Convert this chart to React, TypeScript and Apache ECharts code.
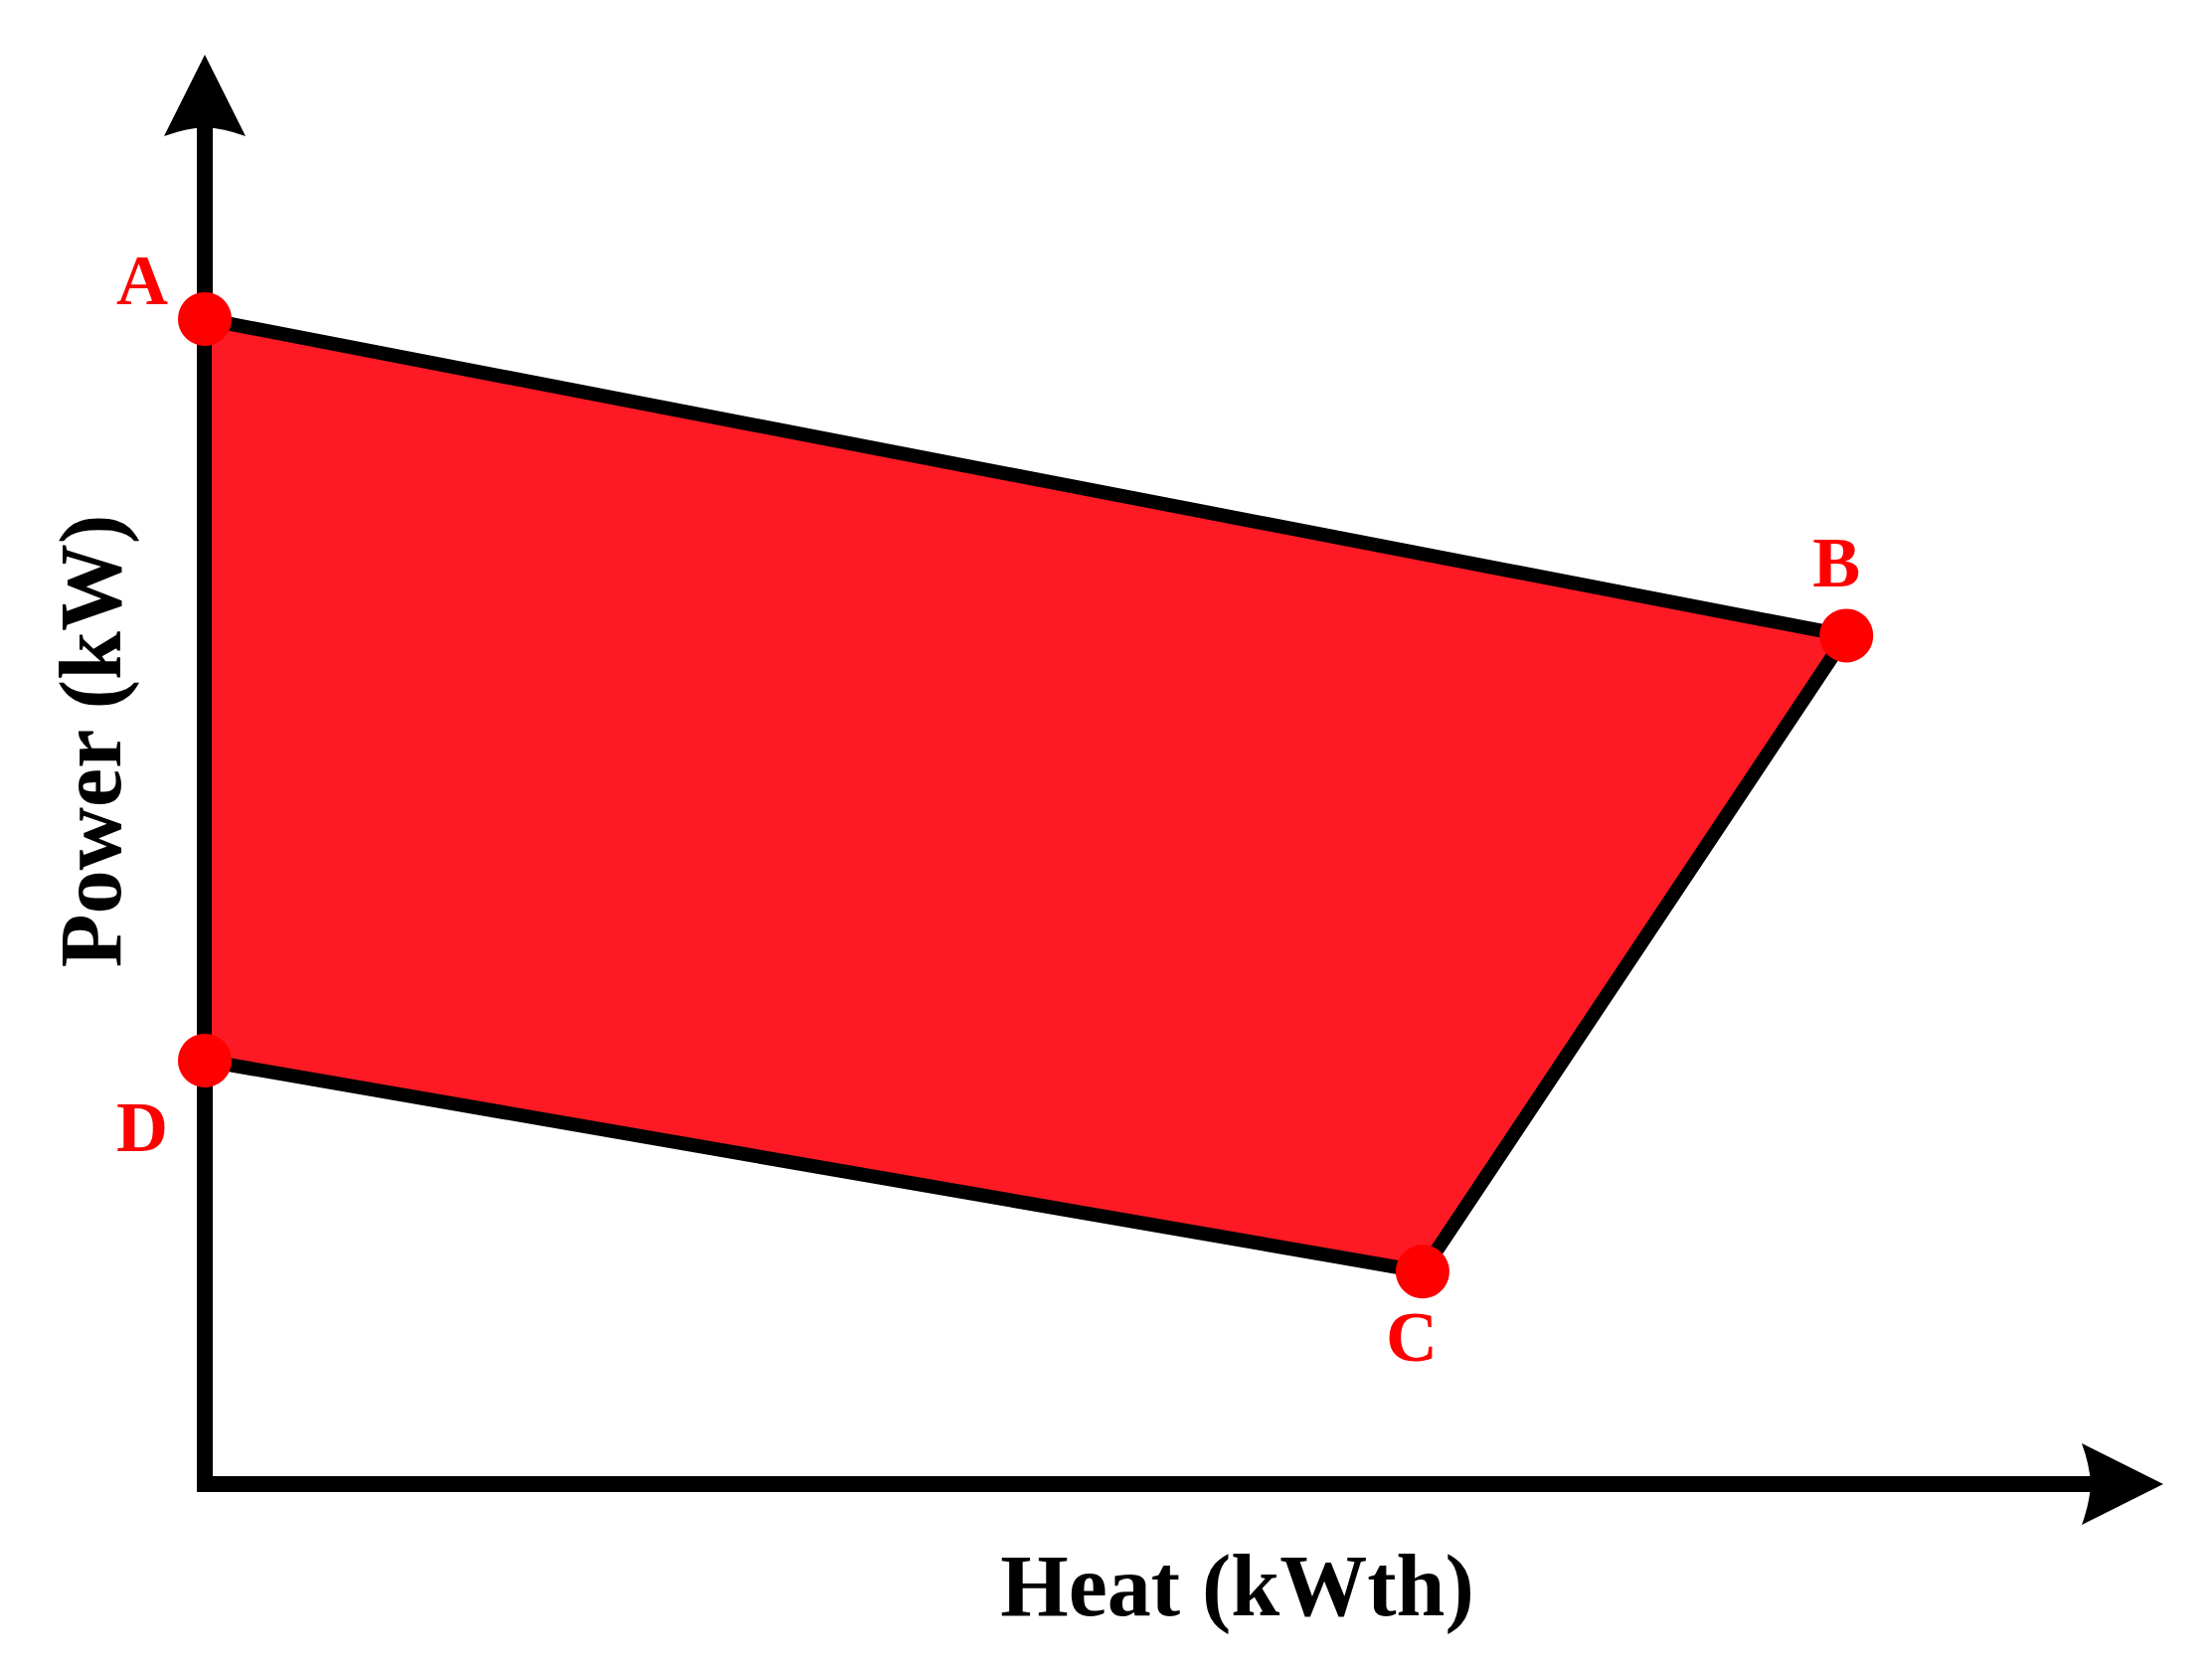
import React, { useEffect, useRef } from "react";
import * as echarts from "echarts";

// Operating region vertices (arbitrary units)
const pointNames = ["A", "B", "C", "D"];
const heatValues = [0, 85.6, 63.5, 0];
const powerValues = [83.9, 61.1, 15.3, 30.5];

const xAxisName = "Heat (kWth)";
const yAxisName = "Power (kW)";

const FONT = "Liberation Serif, Times New Roman, serif";
const ARROW = "path://M41,0 L82,82 Q60,74 41,73 Q22,74 0,82 Z";

export default function App() {
  const ref = useRef<HTMLDivElement>(null);

  useEffect(() => {
    if (!ref.current) return;
    const chart = echarts.init(ref.current, null, { renderer: "svg" });

    const labelOffsets: Record<string, [number, number]> = {
      A: [-63, -39],
      B: [-10, -73],
      C: [-11, 66],
      D: [-63, 67],
    };

    const vertices = pointNames.map((n, i) => [heatValues[i], powerValues[i]]);

    const axisCommon = {
      type: "value" as const,
      min: 0,
      max: 100,
      axisTick: { show: false },
      axisLabel: { show: false },
      splitLine: { show: false },
      axisLine: {
        show: true,
        symbol: ["none", ARROW],
        symbolSize: [82, 82],
        lineStyle: { color: "#000", width: 16, cap: "square" },
      },
    };

    chart.setOption({
      animation: false,
      backgroundColor: "#ffffff",
      grid: {
        left: 206,
        right: 90,
        top: 96,
        bottom: 183,
        containLabel: false,
        outerBoundsMode: "none",
      },
      xAxis: {
        ...axisCommon,
        name: xAxisName,
        nameLocation: "middle",
        nameGap: 58,
        nameTextStyle: {
          fontFamily: FONT,
          fontWeight: "bold",
          fontSize: 88,
          color: "#000",
          padding: [0, 0, 0, 148],
        },
      },
      yAxis: {
        ...axisCommon,
        name: yAxisName,
        nameLocation: "middle",
        nameRotate: 90,
        nameGap: 71,
        nameTextStyle: {
          fontFamily: FONT,
          fontWeight: "bold",
          fontSize: 88,
          color: "#000",
          padding: [0, 0, 0, 98],
        },
      },
      series: [
        {
          type: "custom",
          clip: false,
          z: 3,
          data: vertices,
          renderItem: (params: any, api: any) => {
            if (params.dataIndex !== 0) return null;
            const pts = vertices.map((v) => api.coord(v));
            return {
              type: "polygon",
              shape: { points: pts },
              style: {
                fill: "#fe1a24",
                stroke: "#000",
                lineWidth: 14,
                lineJoin: "miter",
              },
            };
          },
        },
        {
          type: "scatter",
          z: 10,
          symbol: "circle",
          symbolSize: 54,
          itemStyle: { color: "#ff0000", opacity: 1 },
          data: pointNames.map((n, i) => ({
            name: n,
            value: [heatValues[i], powerValues[i]],
            label: {
              show: true,
              position: "inside",
              offset: labelOffsets[n],
              formatter: n,
              color: "#ff0000",
              fontFamily: FONT,
              fontWeight: "bold",
              fontSize: 72,
            },
          })),
        },
      ],
    });

    return () => chart.dispose();
  }, []);

  return (
    <div
      ref={ref}
      style={{ position: "absolute", left: 0, top: 0, width: 2225, height: 1676 }}
    />
  );
}
